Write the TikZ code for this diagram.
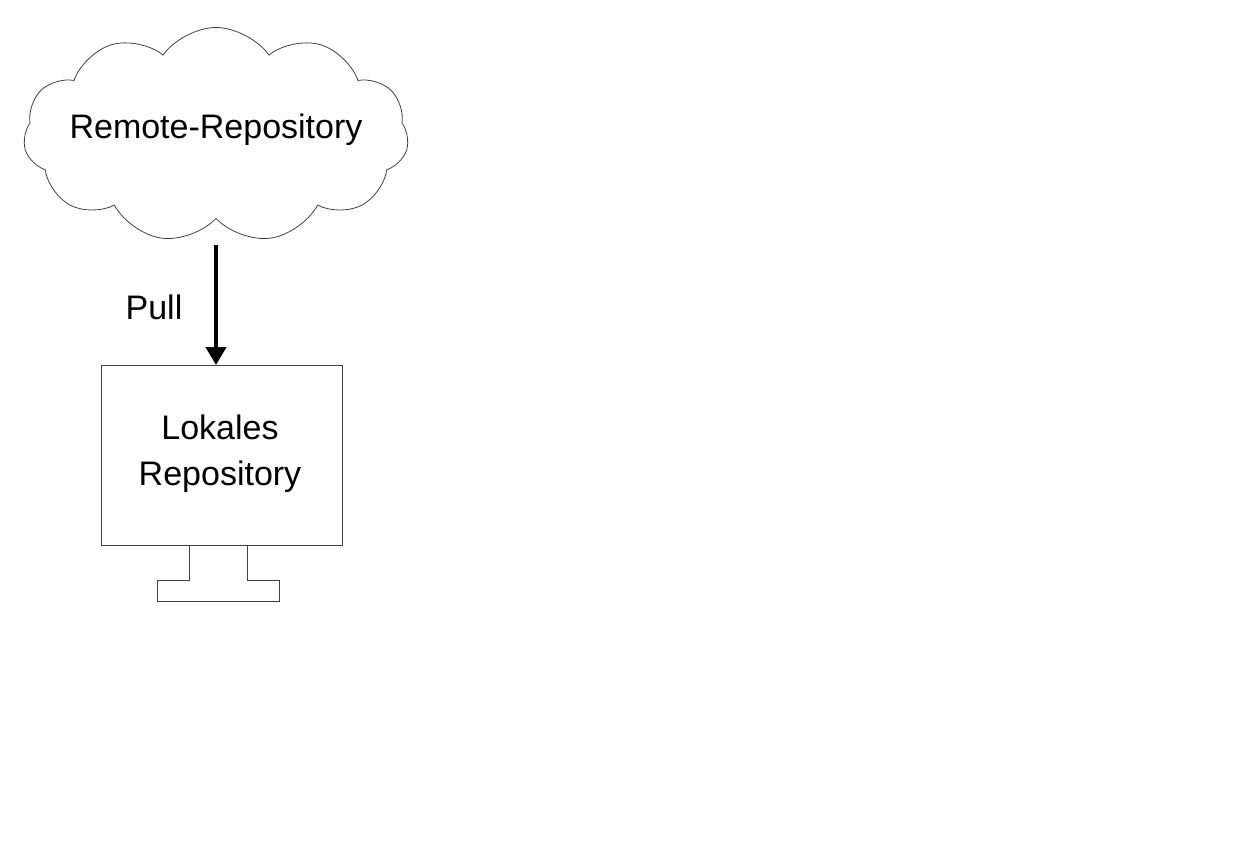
\documentclass[tikz,border=0pt]{standalone}
\usepackage{fontspec}
\setmainfont{Liberation Sans}
\usetikzlibrary{shapes.symbols,arrows.meta}
\begin{document}
\begin{tikzpicture}[x=1pt,y=-1pt,
  outline/.style={draw=black!75,line width=0.8pt},
  lbl/.style={font=\fontsize{34}{40}\selectfont,align=center}]
\useasboundingbox (0,0) rectangle (1235,848);
\node[cloud,cloud puffs=11,cloud puff arc=110,aspect=1.8,outline,minimum width=385pt,minimum height=215pt,inner sep=0pt] (cloud) at (216,135) {};
\node[lbl] (ct) at (216,130) {Remote-Repository};
\node[outline,minimum width=241pt,minimum height=180pt,inner sep=0pt] (mon) at (221.5,455) {};
\node[lbl,font=\fontsize{34}{46}\selectfont] (mt) at (220,454) {Lokales\\Repository};
\draw[outline] (189,545) -- (189,580) -- (157,580) -- (157,601) -- (279,601) -- (279,580) -- (247,580) -- (247,545);
\coordinate (a1) at (216,245);
\coordinate (a2) at (216,365);
\draw[line width=4pt,-{Triangle[length=18pt,width=20pt]}] (a1) -- (a2);
\node[lbl] (pull) at (154,307) {Pull};
\end{tikzpicture}
\end{document}
